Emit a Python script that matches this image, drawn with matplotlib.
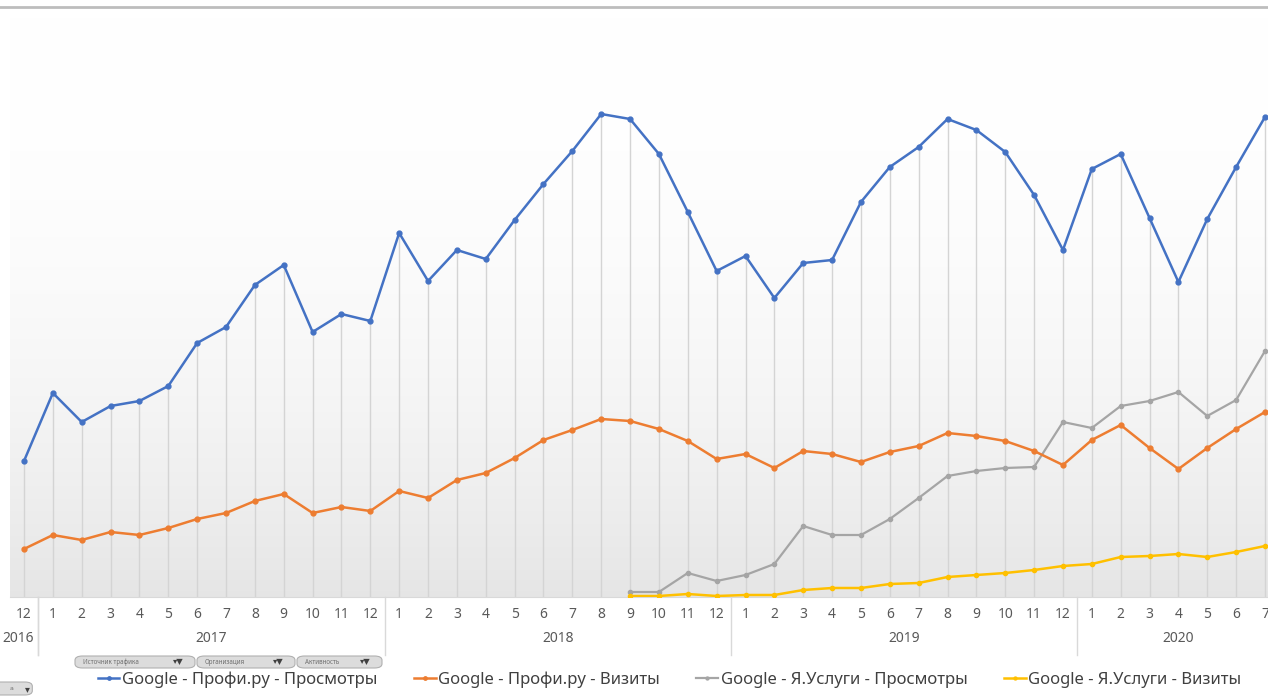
import matplotlib.pyplot as plt
import numpy as np
from matplotlib.lines import Line2D
from matplotlib.patches import FancyBboxPatch

# --- данные (условные единицы) ---
months = ["12"] + [str(m) for m in range(1, 13)] * 3 + [str(m) for m in range(1, 8)]
years = ["2016", "2017", "2018", "2019", "2020"]
year_sizes = [1, 12, 12, 12, 7]

profi_views = [136, 204, 175, 191, 196, 211, 254, 270, 312, 332, 265, 283, 276,
               364, 316, 347, 338, 377, 413, 446, 483, 478, 443, 385, 326,
               341, 299, 334, 337, 395, 430, 450, 478, 467, 445, 402, 347,
               428, 443, 379, 315, 378, 430, 480]
profi_visits = [48, 62, 57, 65, 62, 69, 78, 84, 96, 103, 84, 90, 86,
                106, 99, 117, 124, 139, 157, 167, 178, 176, 168, 156, 138,
                143, 129, 146, 143, 135, 145, 151, 164, 161, 156, 146, 132,
                157, 172, 149, 128, 149, 168, 185]
# Я.Услуги появляются с 9.2018
yu_start = 21
yu_views = [5, 5, 24, 16,
            22, 33, 71, 62, 62, 78, 99, 121, 126, 129, 130, 175,
            169, 191, 196, 205, 181, 197, 246]
yu_visits = [1, 1, 3, 1,
             2, 2, 7, 9, 9, 13, 14, 20, 22, 24, 27, 31,
             33, 40, 41, 43, 40, 45, 51]

series_names = ["Google - Профи.ру - Просмотры", "Google - Профи.ру - Визиты",
                "Google - Я.Услуги - Просмотры", "Google - Я.Услуги - Визиты"]
colors = ["#4472C4", "#ED7D31", "#A5A5A5", "#FFC000"]

n = len(months)
x = np.arange(n)
yu_x = np.arange(yu_start, yu_start + len(yu_views))

W, H = 1268, 700
fig = plt.figure(figsize=(W / 100, H / 100), dpi=100)
fig.patch.set_facecolor("white")

# оси: левый край ~9.6px, ось X на 597px, правый край уходит за картинку
step = 28.86
left_px = 24 - step / 2
ax = fig.add_axes([left_px / W, (H - 597) / H, step * n / W, 580 / H])
ax.set_xlim(-0.5, n - 0.5)
ax.set_ylim(0, 580)

# фон-градиент
grad = np.linspace(0, 1, 256) ** 2.2
grad_img = np.dstack([1 - 0.10 * grad] * 3)[::-1].reshape(256, 1, 3)
ax.imshow(grad_img, extent=[0, 1, 0, 1], transform=ax.transAxes,
          aspect="auto", zorder=0)

# линии проекции от верхней точки вниз
tops = np.array(profi_views, dtype=float)
ax.vlines(x, 0, tops, color="#d4d4d4", lw=1, zorder=1)

lines = []
l, = ax.plot(x, profi_views, color=colors[0], lw=1.8, marker="o", ms=3.5, zorder=4)
lines.append(l)
l, = ax.plot(x, profi_visits, color=colors[1], lw=1.8, marker="o", ms=3.5, zorder=4)
lines.append(l)
l, = ax.plot(yu_x, yu_views, color=colors[2], lw=1.6, marker="o", ms=3, zorder=3)
lines.append(l)
l, = ax.plot(yu_x, yu_visits, color=colors[3], lw=1.8, marker="o", ms=3, zorder=3)
lines.append(l)

for s in ["top", "right", "left"]:
    ax.spines[s].set_visible(False)
ax.spines["bottom"].set_color("#d9d9d9")
ax.set_yticks([])
ax.set_xticks(x)
ax.set_xticklabels(months, fontsize=10, color="#595959", family="Noto Sans")
ax.tick_params(axis="x", length=0, pad=7)

# подписи годов и разделители групп
pos = -0.5
for yr, sz in zip(years, year_sizes):
    mid = pos + sz / 2
    xl = mid if yr != "2016" else 0.3 - 0.5
    ax.text(xl, -41 / 580, yr, ha="center", va="center", fontsize=10,
            color="#595959", family="Noto Sans", transform=ax.get_xaxis_transform(),
            clip_on=False)
    if pos > -0.5:
        ax.plot([pos, pos], [0, -58 / 580], color="#d9d9d9", lw=1,
                transform=ax.get_xaxis_transform(), clip_on=False)
    pos += sz
ax.plot([0.5, 0.5], [0, -58 / 580], color="#d9d9d9", lw=1,
        transform=ax.get_xaxis_transform(), clip_on=False)

# верхняя серая линия
fig.add_artist(Line2D([0, 1], [1 - 7 / H] * 2, color="#bdbdbd", lw=2))

# кнопки полей сводной диаграммы
buttons = [(75, 195, "Источник трафика"), (197, 295, "Организация"), (297, 382, "Активность")]
for x0, x1, txt in buttons:
    fig.add_artist(FancyBboxPatch((x0 / W, 1 - 668 / H), (x1 - x0) / W, 12 / H,
                                  boxstyle="round,pad=0,rounding_size=0.006",
                                  fc="#dcdcdc", ec="#b0b0b0", lw=0.8))
    fig.text((x0 + 8) / W, 1 - 662 / H, txt, fontsize=4.5, color="#707070",
             va="center", family="Noto Sans")
    fig.text((x1 - 22) / W, 1 - 662 / H, "▾▼", fontsize=6, color="#404040",
             va="center", family="DejaVu Sans")
fig.add_artist(FancyBboxPatch((-0.01, 1 - 695 / H), 45 / W, 13 / H,
                              boxstyle="round,pad=0,rounding_size=0.006",
                              fc="#dcdcdc", ec="#b0b0b0", lw=0.8))
fig.text(10 / W, 1 - 689 / H, "a", fontsize=4.5, color="#707070", va="center")
fig.text(25 / W, 1 - 689 / H, "▾", fontsize=7, color="#404040", va="center")

# легенда
fig.legend(lines, series_names, loc="center", bbox_to_anchor=(0.528, 1 - 680 / H),
           ncol=4, frameon=False, handlelength=1.3, handletextpad=0.15,
           columnspacing=2.2, prop={"family": "Noto Sans", "size": 12},
           labelcolor="#404040", markerscale=0.7)

fig.savefig("out.png", dpi=100)
